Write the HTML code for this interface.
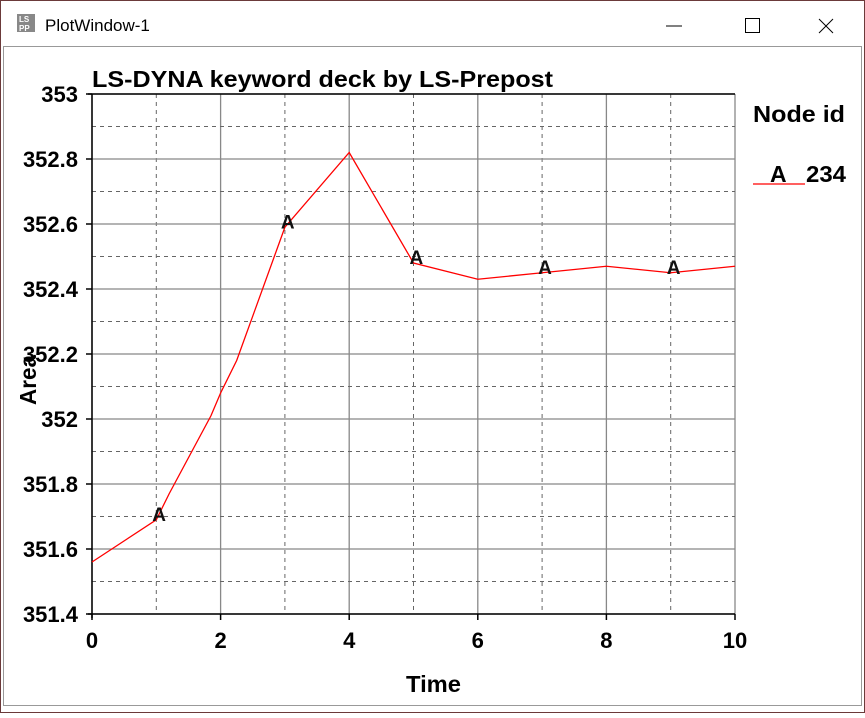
<!DOCTYPE html>
<html><head><meta charset="utf-8"><style>
html,body{margin:0;padding:0;background:#fff;}
body{width:865px;height:713px;overflow:hidden;font-family:"Liberation Sans",sans-serif;}
</style></head><body>
<svg width="865" height="713" xmlns="http://www.w3.org/2000/svg">
<rect x="0.5" y="0.5" width="864" height="712" fill="#fff" stroke="#6b3a3a"/>
<rect x="17" y="14" width="18" height="18" fill="#888"/>
<text x="19" y="22" font-size="8" fill="#fff" font-weight="bold">LS</text>
<text x="19" y="31" font-size="8" fill="#fff" font-weight="bold">PP</text>
<text x="45" y="31" font-size="17" fill="#000">PlotWindow-1</text>
<line x1="666" y1="26" x2="682" y2="26" stroke="#000"/>
<rect x="745.5" y="18.5" width="14" height="14" fill="none" stroke="#000"/>
<g stroke="#000"><line x1="819" y1="19" x2="833" y2="33"/><line x1="833" y1="19" x2="819" y2="33"/></g>
<rect x="3.5" y="46.5" width="858" height="659" fill="#fff" stroke="#999"/>
<g id="grid"></g>
<g id="axes"></g>
<g id="series"></g>
<text x="92" y="87" font-size="23" font-weight="bold" fill="#000" textLength="461" lengthAdjust="spacingAndGlyphs">LS-DYNA keyword deck by LS-Prepost</text>
<text x="406" y="692" font-size="23" font-weight="bold" textLength="55" lengthAdjust="spacingAndGlyphs">Time</text>
<text transform="translate(36,405) rotate(-90)" font-size="23" font-weight="bold" textLength="50" lengthAdjust="spacingAndGlyphs">Area</text>
<text x="753" y="122" font-size="23" font-weight="bold" textLength="92" lengthAdjust="spacingAndGlyphs">Node id</text>
<line x1="753" y1="184" x2="805" y2="184" stroke="#ff0000" stroke-width="1.3"/>
<text x="770" y="182" font-size="23" font-weight="bold">A</text>
<text x="806" y="182" font-size="23" font-weight="bold" textLength="40" lengthAdjust="spacingAndGlyphs">234</text>
</svg>
<script>
const times=[0,1,1.2,1.85,2,2.25,3,4,5,6,7,8,9,10];
const areas=[351.56,351.69,351.77,352.01,352.08,352.18,352.59,352.82,352.48,352.43,352.45,352.47,352.45,352.47];
const markerTimes=[1,3,5,7,9];
const xTicks=[0,2,4,6,8,10];
const yTicks=[351.4,351.6,351.8,352,352.2,352.4,352.6,352.8,353];
const NS="http://www.w3.org/2000/svg";
const X0=92,X1=735,Y0=614,Y1=94,xmin=0,xmax=10,ymin=351.4,ymax=353;
function sx(v){return X0+(v-xmin)/(xmax-xmin)*(X1-X0);}
function sy(v){return Y0-(v-ymin)/(ymax-ymin)*(Y0-Y1);}
function mk(tag,attrs,parent){const e=document.createElementNS(NS,tag);for(const k in attrs)e.setAttribute(k,attrs[k]);parent.appendChild(e);return e;}
const grid=document.getElementById('grid'),axes=document.getElementById('axes'),series=document.getElementById('series');
for(let t=xmin;t<=xmax;t+=1){
  const major=t%2===0;
  const l=mk('line',{x1:sx(t),x2:sx(t),y1:Y1,y2:Y0,stroke:major?'#888':'#666','stroke-width':major?1.3:1,'stroke-dasharray':major?'none':'4,4'},grid);
  
  
}
for(let i=0;i<=16;i++){
  const v=ymin+i*0.1;const major=i%2===0;
  const l=mk('line',{x1:X0,x2:X1,y1:sy(v),y2:sy(v),stroke:major?'#888':'#666','stroke-width':major?1.3:1,'stroke-dasharray':major?'none':'4,4'},grid);
  
  
}
mk('line',{x1:X0,x2:X0,y1:Y1,y2:Y0+4,stroke:'#000','stroke-width':1.5},axes);
mk('line',{x1:X0-4,x2:X1,y1:Y0,y2:Y0,stroke:'#000','stroke-width':1.5},axes);
mk('line',{x1:X0-4,x2:X1,y1:Y1,y2:Y1,stroke:'#000','stroke-width':1.5},axes);
xTicks.forEach(t=>{
  mk('line',{x1:sx(t),x2:sx(t),y1:Y0,y2:Y0+6,stroke:'#000','stroke-width':1.5},axes);
  const tx=mk('text',{x:sx(t),y:Y0+34,'font-size':22,'font-weight':'bold','text-anchor':'middle'},axes);
  tx.textContent=t;
  
  
});
yTicks.forEach(v=>{
  mk('line',{x1:X0-6,x2:X0,y1:sy(v),y2:sy(v),stroke:'#000','stroke-width':1.5},axes);
  const tx=mk('text',{x:X0-14,y:sy(v)+8,'font-size':22,'font-weight':'bold','text-anchor':'end'},axes);
  tx.textContent=String(Math.round(v*10)/10);
  
  
});
const pts=times.map((t,i)=>sx(t)+','+sy(areas[i])).join(' ');
const pl=mk('polyline',{points:pts,fill:'none',stroke:'#ff0000','stroke-width':1.3},series);


function interp(t){for(let i=0;i<times.length-1;i++){if(t>=times[i]&&t<=times[i+1]){const f=(t-times[i])/(times[i+1]-times[i]);return areas[i]+f*(areas[i+1]-areas[i]);}}return areas[areas.length-1];}
markerTimes.forEach(t=>{
  const m=mk('text',{x:sx(t)-4,y:sy(interp(t))+1,'font-size':19,'font-weight':'bold',fill:'#111'},series);
  m.textContent='A';
  
  
});
</script>
</body></html>
